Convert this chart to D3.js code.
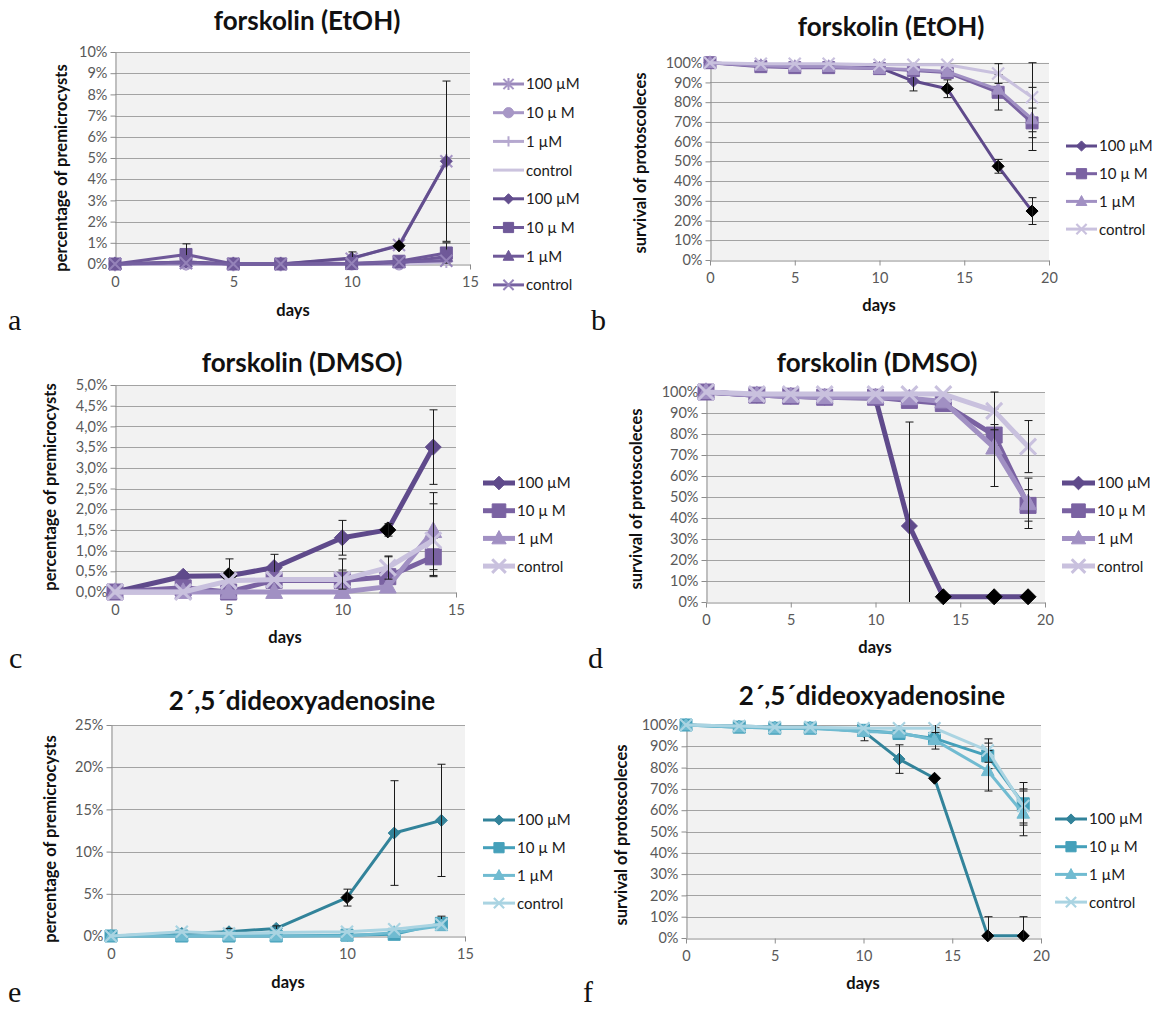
<!DOCTYPE html>
<html>
<head>
<meta charset="utf-8">
<script src="https://cdn.jsdelivr.net/npm/d3@7"></script>
<style>
  body { margin: 0; background: #fff; }
  svg { display: block; }
  .sans { font-family: Lato, "Open Sans", "DejaVu Sans", sans-serif; }
  .serif { font-family: "Liberation Serif", "DejaVu Serif", serif; }
</style>
</head>
<body>
<svg id="fig" width="1153" height="1010"></svg>
<script>
// ---- sampling days ----
const daysShort = [0, 3, 5, 7, 10, 12, 14];
const daysLong = [0, 3, 5, 7, 10, 12, 14, 17, 19];
const legendNames = ["100 µM", "10 µ M", "1 µM", "control"];

// ---- a: forskolin (EtOH), premicrocysts (%) ----
const aSolv100 = [0, 0.05, 0, 0, 0.25, 0.9, 4.85];
const aSolv10 = [0, 0, 0, 0, 0, 0, 0.3];
const aSolv1 = [0, 0, 0, 0, 0, 0, 0.1];
const aSolvCtrl = [0, 0, 0, 0, 0, 0, 0.1];
const aFsk100 = [0, 0.1, 0, 0, 0.28, 0.86, 4.85];
const aFsk100Err = [0, 0, 0, 0, 0.29, 0, 3.78];
const aFsk10 = [0, 0.45, 0, 0, 0.02, 0.13, 0.52];
const aFsk10Err = [0, 0.5, 0, 0, 0, 0, 0.48];
const aFsk1 = [0, 0.1, 0, 0, 0, 0.05, 0.35];
const aFskCtrl = [0, 0.05, 0, 0, 0.02, 0.1, 0.15];
const aSignif100 = [5];

// ---- b: forskolin (EtOH), survival (%) ----
const b100 = [100, 98.5, 98, 98, 97.5, 90.7, 86.8, 47.5, 24.8];
const b100Err = [0, 0.5, 0.5, 0.5, 0.5, 5, 4.5, 3.5, 6.8];
const b10 = [100, 98, 97.5, 97.5, 97, 96, 95, 85, 69.5];
const b10Err = [0, 0.5, 1, 1, 0.5, 1, 1.5, 9, 7.5];
const b1 = [100, 98.5, 98, 98, 97, 96.5, 95.5, 86.5, 71.5];
const b1Err = [0, 0, 0, 0, 0, 0, 0, 0, 16];
const bCtrl = [100, 99.5, 99.5, 99.5, 99, 99, 99, 94.5, 82.5];
const bCtrlErr = [0, 0, 0, 0, 0, 0, 0, 5, 17.5];
const bSignif100 = [6, 7, 8];

// ---- c: forskolin (DMSO), premicrocysts (%) ----
const c100 = [0, 0.38, 0.39, 0.59, 1.31, 1.5, 3.5];
const c100Err = [0, 0, 0.41, 0.32, 0.42, 0.15, 0.9];
const c10 = [0, 0.1, 0, 0.28, 0.28, 0.37, 0.85];
const c10Err = [0, 0, 0, 0, 0.52, 0.48, 0.45];
const c1 = [0, 0, 0, 0, 0, 0.13, 1.47];
const c1Err = [0, 0, 0, 0, 0, 0, 0.93];
const cCtrl = [0, 0, 0.27, 0.3, 0.3, 0.59, 1.25];
const cCtrlErr = [0, 0, 0, 0, 0.23, 0.28, 0.88];
const cSignif100 = [2, 5];

// ---- d: forskolin (DMSO), survival (%) ----
const d100 = [100, 98.5, 98, 97.5, 97, 36.2, 2.5, 2.5, 2.5];
const d100Err = [0, 0, 0, 0, 0, 49.5, 0, 0, 0];
const d10 = [100, 98.5, 98, 97.5, 97.5, 96, 94.5, 79.5, 46];
const d10Err = [0, 0, 0, 0, 0, 0, 1.5, 5, 7.5];
const d1 = [100, 98.5, 98, 97.5, 97.5, 97, 95.5, 73.5, 47];
const d1Err = [0, 0, 0, 0, 0, 0, 0, 18.5, 12];
const dCtrl = [100, 99, 99, 99, 99, 99, 99, 91, 74];
const dCtrlErr = [0, 0, 0, 0, 0, 0, 0, 9, 12.4];
const dSignif100 = [6, 7, 8];

// ---- e: 2',5'-dideoxyadenosine, premicrocysts (%) ----
const e100 = [0, 0.3, 0.5, 0.9, 4.55, 12.2, 13.7];
const e100Err = [0, 0, 0.4, 0.3, 1, 6.2, 6.65];
const e10 = [0, 0, 0, 0, 0.1, 0.2, 1.5];
const e10Err = [0, 0, 0, 0, 0, 0, 0.85];
const e1 = [0, 0, 0, 0, 0, 0.4, 1.2];
const eCtrl = [0, 0.5, 0.3, 0.4, 0.5, 0.8, 1.4];
const eSignif100 = [4];

// ---- f: 2',5'-dideoxyadenosine, survival (%) ----
const f100 = [100, 99.5, 99, 99, 97, 84, 75, 1, 1];
const f100Err = [0, 0, 0, 0, 4.4, 6.7, 0, 9, 9];
const f10 = [100, 99, 98.5, 98.5, 97.5, 96, 93.7, 85.5, 63];
const f10Err = [0, 0, 0, 0, 0, 0, 5, 6, 10];
const f1 = [100, 99, 98.5, 98.5, 97, 96.5, 93, 78.5, 58.5];
const f1Err = [0, 0, 0, 0, 0, 0, 0, 9.5, 10.5];
const fCtrl = [100, 99.5, 99, 99, 98.5, 98.5, 98.5, 88, 62];
const fCtrlErr = [0, 0, 0, 0, 0, 0, 2, 5.5, 8];
const fSignif100 = [6, 7, 8];

// ---- axis ticks ----
const xTicksShort = [0, 5, 10, 15];
const xTicksLong = [0, 5, 10, 15, 20];
const yTicksA = d3.range(0, 10.01, 1);
const yTicksSurv = d3.range(0, 100.01, 10);
const yTicksC = d3.range(0, 5.01, 0.5);
const yTicksE = d3.range(0, 25.01, 5);

// ---- palettes ----
const purple = { d100: "#5f4a8b", d10: "#7a62a2", d1: "#a190c3", ctrl: "#c9c1de" };
const teal = { d100: "#32839a", d10: "#45a0ba", d1: "#70bbd1", ctrl: "#aad4e2" };

const svg = d3.select("#fig");

function markerPath(type, r) {
  switch (type) {
    case "diamond": return `M0,${-r}L${r},0L0,${r}L${-r},0Z`;
    case "square": return `M${-r},${-r}H${r}V${r}H${-r}Z`;
    case "triangle": return `M0,${-r * 1.15}L${r * 1.05},${r * 0.8}L${-r * 1.05},${r * 0.8}Z`;
    case "x": return `M${-r},${-r}L${r},${r}M${r},${-r}L${-r},${r}`;
    case "star": return `M${-r},${-r}L${r},${r}M${r},${-r}L${-r},${r}M0,${-r * 1.2}V${r * 1.2}`;
    case "plus": return `M${-r},0H${r}M0,${-r}V${r}`;
    case "circle": return d3.symbol(d3.symbolCircle, Math.PI * r * r)();
    default: return null;
  }
}
const strokeOnly = t => t === "x" || t === "star" || t === "plus";

function drawMarker(sel, type, r, color, black, sw) {
  const p = markerPath(type, r);
  if (!p) return;
  const m = sel.append("path").attr("d", p);
  if (strokeOnly(type)) {
    m.attr("fill", "none").attr("stroke", black ? "#000" : color).attr("stroke-width", sw);
  } else {
    m.attr("fill", black ? "#000" : color).attr("stroke", black ? "#000" : color).attr("stroke-width", 1);
  }
}

function drawPanel(p) {
  const g = svg.append("g").attr("class", "sans");
  const x = d3.scaleLinear().domain(p.xDomain).range([p.x0, p.x1]);
  const y = d3.scaleLinear().domain(p.yDomain).range([p.y1, p.y0]);
  const yc = y.copy().clamp(true);

  g.append("rect")
    .attr("x", p.x0).attr("y", p.y0)
    .attr("width", p.x1 - p.x0).attr("height", p.y1 - p.y0)
    .attr("fill", "#f2f2f2");

  g.append("g").selectAll("line")
    .data(p.yTicks.slice(1))
    .join("line")
    .attr("x1", p.x0).attr("x2", p.x1)
    .attr("y1", d => Math.round(y(d)) + 0.5).attr("y2", d => Math.round(y(d)) + 0.5)
    .attr("stroke", "#a3a3a3").attr("stroke-width", 1.2);

  const yAxis = g.append("g")
    .attr("transform", `translate(${p.x0 + 0.5},0)`)
    .call(d3.axisLeft(y).tickValues(p.yTicks).tickFormat(p.fmt).tickSize(5).tickSizeOuter(0).tickPadding(3));
  const xAxis = g.append("g")
    .attr("transform", `translate(0,${Math.round(p.y1) + 0.5})`)
    .call(d3.axisBottom(x).tickValues(p.xTicks).tickSize(5).tickSizeOuter(0).tickPadding(7));
  [yAxis, xAxis].forEach(a => {
    a.attr("font-family", null);
    a.select(".domain").attr("stroke", "#8c8c8c").attr("stroke-width", 1);
    a.selectAll(".tick line").attr("stroke", "#8c8c8c");
    a.selectAll("text").attr("fill", "#595959").attr("font-size", 14.5);
  });

  // title and axis titles
  g.append("text").attr("x", p.title[0]).attr("y", p.title[1]).attr("dy", "0.36em")
    .attr("text-anchor", "middle").attr("font-weight", 700).attr("font-size", 26)
    .attr("fill", "#111").text(p.titleText);
  g.append("text").attr("x", p.daysPos[0]).attr("y", p.daysPos[1]).attr("dy", "0.36em")
    .attr("text-anchor", "middle").attr("font-weight", 700).attr("font-size", 16.5)
    .attr("fill", "#111").text("days");
  g.append("text")
    .attr("transform", `translate(${p.yLabelPos[0]},${p.yLabelPos[1]}) rotate(-90)`)
    .attr("dy", "0.36em").attr("text-anchor", "middle")
    .attr("font-weight", 700).attr("font-size", 16.5).attr("fill", "#111")
    .text(p.yLabel);
  svg.append("text").attr("class", "serif").attr("x", p.letter[0]).attr("y", p.letter[1])
    .attr("font-size", 30).attr("fill", "#111").text(p.letterText);

  const line = d3.line().x(d => x(d[0])).y(d => y(d[1]));

  p.series.forEach(s => {
    const pts = p.days.map((dd, i) => [dd, s.values[i]]);
    const sg = g.append("g");
    sg.append("path").attr("d", line(pts))
      .attr("fill", "none").attr("stroke", s.color)
      .attr("stroke-width", p.lw).attr("stroke-linejoin", "round").attr("stroke-linecap", "round");
    pts.forEach((pt, i) => {
      const mg = sg.append("g").attr("transform", `translate(${x(pt[0])},${y(pt[1])})`);
      drawMarker(mg, s.marker, p.mr, s.markerColor || s.color, (s.signif || []).includes(i), p.msw);
    });
    if (s.err) {
      pts.forEach((pt, i) => {
        const e = s.err[i];
        if (!e) return;
        const cx = Math.round(x(pt[0])) + 0.5;
        const yt = yc(pt[1] + e), yb = yc(pt[1] - e);
        const eg = sg.append("g").attr("stroke", "#1a1a1a").attr("stroke-width", 1);
        eg.append("line").attr("x1", cx).attr("x2", cx).attr("y1", yt).attr("y2", yb);
        if (pt[1] + e <= p.yDomain[1]) eg.append("line").attr("x1", cx - 4).attr("x2", cx + 4).attr("y1", yt).attr("y2", yt);
        if (pt[1] - e >= p.yDomain[0]) eg.append("line").attr("x1", cx - 4).attr("x2", cx + 4).attr("y1", yb).attr("y2", yb);
      });
    }
  });

  // legend
  p.legendOrder.forEach((s, k) => {
    const ly = p.legend.y0 + k * p.legend.step;
    const lg = g.append("g");
    lg.append("line").attr("x1", p.legend.x0).attr("x2", p.legend.x1)
      .attr("y1", ly).attr("y2", ly).attr("stroke", s.color).attr("stroke-width", p.lw);
    const mg = lg.append("g").attr("transform", `translate(${(p.legend.x0 + p.legend.x1) / 2},${ly})`);
    drawMarker(mg, s.marker, p.mr * 0.85, s.markerColor || s.color, false, p.msw);
    lg.append("text").attr("x", p.legend.x1 + 2).attr("y", ly).attr("dy", "0.36em")
      .attr("font-size", 15).attr("fill", "#1a1a1a").text(s.name);
  });
}

const pct = d => d + "%";
const pctComma = d => d.toFixed(1).replace(".", ",") + "%";

// ---- panel a ----
const aSeries = [
  { name: legendNames[0], values: aSolv100, marker: "star", color: "#9a88bb", markerColor: "#a796c6" },
  { name: legendNames[1], values: aSolv10, marker: "circle", color: "#a797c6" },
  { name: legendNames[2], values: aSolv1, marker: "plus", color: "#b5a8cf" },
  { name: legendNames[3], values: aSolvCtrl, marker: "none", color: "#cbc3de" },
  { name: legendNames[0], values: aFsk100, err: aFsk100Err, marker: "diamond", color: "#634e8e", signif: aSignif100 },
  { name: legendNames[1], values: aFsk10, err: aFsk10Err, marker: "square", color: "#6f5999" },
  { name: legendNames[2], values: aFsk1, marker: "triangle", color: "#6f5999" },
  { name: legendNames[3], values: aFskCtrl, marker: "x", color: "#7560a0", markerColor: "#9583b9" }
];
drawPanel({
  days: daysShort, xDomain: [0, 15], yDomain: [0, 10], xTicks: xTicksShort, yTicks: yTicksA, fmt: pct,
  x0: 115, x1: 470, y0: 52, y1: 264,
  titleText: "forskolin (EtOH)", title: [307, 21], daysPos: [293, 310],
  yLabel: "percentage of premicrocysts", yLabelPos: [61, 168],
  letterText: "a", letter: [8, 330],
  lw: 3, mr: 6, msw: 2,
  series: aSeries, legendOrder: aSeries,
  legend: { x0: 493, x1: 524, y0: 84, step: 28.7 }
});

// ---- panel b ----
const bSeries = [
  { name: legendNames[0], values: b100, err: b100Err, marker: "diamond", color: purple.d100, signif: bSignif100 },
  { name: legendNames[1], values: b10, err: b10Err, marker: "square", color: purple.d10 },
  { name: legendNames[2], values: b1, err: b1Err, marker: "triangle", color: purple.d1 },
  { name: legendNames[3], values: bCtrl, err: bCtrlErr, marker: "x", color: purple.ctrl }
];
drawPanel({
  days: daysLong, xDomain: [0, 20], yDomain: [0, 100], xTicks: xTicksLong, yTicks: yTicksSurv, fmt: pct,
  x0: 710, x1: 1049, y0: 62.7, y1: 260,
  titleText: "forskolin (EtOH)", title: [891, 27], daysPos: [879, 305],
  yLabel: "survival of protoscoleces", yLabelPos: [640, 163],
  letterText: "b", letter: [591, 330],
  lw: 3, mr: 6, msw: 2.2,
  series: bSeries, legendOrder: bSeries,
  legend: { x0: 1066, x1: 1097, y0: 146, step: 27.7 }
});

// ---- panel c ----
const cSeries = [
  { name: legendNames[0], values: c100, err: c100Err, marker: "diamond", color: purple.d100, signif: cSignif100 },
  { name: legendNames[1], values: c10, err: c10Err, marker: "square", color: purple.d10 },
  { name: legendNames[2], values: c1, err: c1Err, marker: "triangle", color: purple.d1 },
  { name: legendNames[3], values: cCtrl, err: cCtrlErr, marker: "x", color: purple.ctrl }
];
drawPanel({
  days: daysShort, xDomain: [0, 15], yDomain: [0, 5], xTicks: xTicksShort, yTicks: yTicksC, fmt: pctComma,
  x0: 115, x1: 456, y0: 385, y1: 592,
  titleText: "forskolin (DMSO)", title: [302, 363], daysPos: [285, 637],
  yLabel: "percentage of premicrocysts", yLabelPos: [50, 487],
  letterText: "c", letter: [9, 668],
  lw: 5, mr: 8, msw: 3,
  series: cSeries, legendOrder: cSeries,
  legend: { x0: 483, x1: 515, y0: 483, step: 27.7 }
});

// ---- panel d ----
const dSeries = [
  { name: legendNames[0], values: d100, err: d100Err, marker: "diamond", color: purple.d100, signif: dSignif100 },
  { name: legendNames[1], values: d10, err: d10Err, marker: "square", color: purple.d10 },
  { name: legendNames[2], values: d1, err: d1Err, marker: "triangle", color: purple.d1 },
  { name: legendNames[3], values: dCtrl, err: dCtrlErr, marker: "x", color: purple.ctrl }
];
drawPanel({
  days: daysLong, xDomain: [0, 20], yDomain: [0, 100], xTicks: xTicksLong, yTicks: yTicksSurv, fmt: pct,
  x0: 706, x1: 1045, y0: 392, y1: 602,
  titleText: "forskolin (DMSO)", title: [877, 363], daysPos: [875, 647],
  yLabel: "survival of protoscoleces", yLabelPos: [636, 499],
  letterText: "d", letter: [588, 668],
  lw: 5, mr: 8, msw: 3,
  series: dSeries, legendOrder: dSeries,
  legend: { x0: 1062, x1: 1095, y0: 483, step: 27.7 }
});

// ---- panel e ----
const eSeries = [
  { name: legendNames[0], values: e100, err: e100Err, marker: "diamond", color: teal.d100, signif: eSignif100 },
  { name: legendNames[1], values: e10, err: e10Err, marker: "square", color: teal.d10 },
  { name: legendNames[2], values: e1, marker: "triangle", color: teal.d1 },
  { name: legendNames[3], values: eCtrl, marker: "x", color: teal.ctrl }
];
drawPanel({
  days: daysShort, xDomain: [0, 15], yDomain: [0, 25], xTicks: xTicksShort, yTicks: yTicksE, fmt: pct,
  x0: 111, x1: 465, y0: 725, y1: 936,
  titleText: "2´,5´dideoxyadenosine", title: [302, 701], daysPos: [288, 982],
  yLabel: "percentage of premicrocysts", yLabelPos: [50, 839],
  letterText: "e", letter: [8, 1002],
  lw: 3, mr: 6, msw: 2.2,
  series: eSeries, legendOrder: eSeries,
  legend: { x0: 483, x1: 515, y0: 820, step: 27.7 }
});

// ---- panel f ----
const fSeries = [
  { name: legendNames[0], values: f100, err: f100Err, marker: "diamond", color: teal.d100, signif: fSignif100 },
  { name: legendNames[1], values: f10, err: f10Err, marker: "square", color: teal.d10 },
  { name: legendNames[2], values: f1, err: f1Err, marker: "triangle", color: teal.d1 },
  { name: legendNames[3], values: fCtrl, err: fCtrlErr, marker: "x", color: teal.ctrl }
];
drawPanel({
  days: daysLong, xDomain: [0, 20], yDomain: [0, 100], xTicks: xTicksLong, yTicks: yTicksSurv, fmt: pct,
  x0: 686, x1: 1041, y0: 725, y1: 938,
  titleText: "2´,5´dideoxyadenosine", title: [872, 696], daysPos: [863, 983],
  yLabel: "survival of protoscoleces", yLabelPos: [621, 835],
  letterText: "f", letter: [583, 1002],
  lw: 3, mr: 6, msw: 2.2,
  series: fSeries, legendOrder: fSeries,
  legend: { x0: 1055, x1: 1087, y0: 819, step: 27.7 }
});
</script>
</body>
</html>
